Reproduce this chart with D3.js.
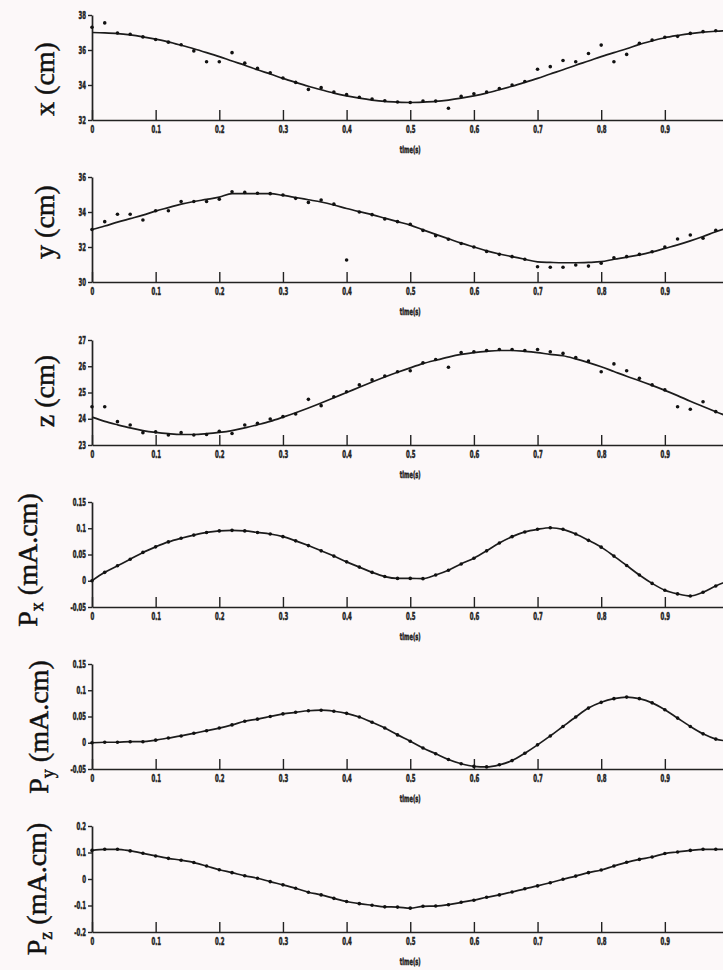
<!DOCTYPE html>
<html>
<head>
<meta charset="utf-8">
<script src="https://cdn.jsdelivr.net/npm/d3@7"></script>
<style>
body { margin: 0; background: #fcf8f9; }
svg { display: block; }
</style>
</head>
<body>
<div id="chart-area"></div>
<script>
// time grid (s), one sample every 0.02 s
var time = [0, 0.02, 0.04, 0.06, 0.08, 0.1, 0.12, 0.14, 0.16, 0.18,
	0.2, 0.22, 0.24, 0.26, 0.28, 0.3, 0.32, 0.34, 0.36, 0.38,
	0.4, 0.42, 0.44, 0.46, 0.48, 0.5, 0.52, 0.54, 0.56, 0.58,
	0.6, 0.62, 0.64, 0.66, 0.68, 0.7, 0.72, 0.74, 0.76, 0.78,
	0.8, 0.82, 0.84, 0.86, 0.88, 0.9, 0.92, 0.94, 0.96, 0.98, 1.0];

var timeTicks = [0, 0.1, 0.2, 0.3, 0.4, 0.5, 0.6, 0.7, 0.8, 0.9];

// x (cm)
var xFit = [37.0, 36.98, 36.94, 36.86, 36.75, 36.62, 36.46, 36.27, 36.07, 35.85,
	35.62, 35.37, 35.13, 34.87, 34.63, 34.38, 34.15, 33.93, 33.73, 33.54,
	33.38, 33.25, 33.14, 33.06, 33.02, 33.0, 33.02, 33.06, 33.14, 33.25,
	33.38, 33.54, 33.73, 33.93, 34.15, 34.38, 34.63, 34.87, 35.13, 35.37,
	35.62, 35.85, 36.07, 36.32, 36.52, 36.7, 36.83, 36.94, 37.02, 37.07, 37.1];
var xMeas = [37.3, 37.55, 36.97, 36.9, 36.75, 36.6, 36.45, 36.3, 35.95, 35.33,
	35.33, 35.85, 35.25, 34.95, 34.7, 34.4, 34.15, 33.75, 33.85, 33.6,
	33.45, 33.3, 33.2, 33.1, 33.03, 33.0, 33.08, 33.08, 32.67, 33.35,
	33.5, 33.6, 33.8, 34.0, 34.2, 34.9, 35.05, 35.4, 35.33, 35.8,
	36.28, 35.33, 35.75, 36.38, 36.57, 36.73, 36.78, 36.95, 37.05, 37.1, 37.1];
var xTicksY = [32, 34, 36, 38];

// y (cm)
var yFit = [33.0, 33.2, 33.42, 33.62, 33.82, 34.05, 34.25, 34.45, 34.6, 34.72,
	34.85, 35.05, 35.05, 35.05, 35.05, 34.95, 34.83, 34.7, 34.57, 34.4,
	34.2, 34.02, 33.85, 33.65, 33.45, 33.25, 32.98, 32.72, 32.47, 32.22,
	32.0, 31.78, 31.6, 31.45, 31.3, 31.15, 31.12, 31.1, 31.1, 31.12,
	31.16, 31.3, 31.42, 31.55, 31.72, 31.92, 32.12, 32.35, 32.6, 32.87, 33.1];
var yMeas = [33.0, 33.45, 33.87, 33.87, 33.54, 34.07, 34.07, 34.6, 34.6, 34.6,
	34.73, 35.16, 35.12, 35.07, 35.05, 34.97, 34.78, 34.55, 34.69, 34.45,
	31.26, 34.0, 33.85, 33.6, 33.45, 33.3, 32.95, 32.65, 32.44, 32.2,
	32.0, 31.75, 31.58, 31.45, 31.3, 30.87, 30.84, 30.84, 30.97, 30.91,
	31.07, 31.38, 31.45, 31.58, 31.73, 32.0, 32.46, 32.69, 32.5, 32.95, 33.05];
var yTicksY = [30, 32, 34, 36];

// z (cm)
var zFit = [24.06, 23.9, 23.77, 23.65, 23.55, 23.48, 23.43, 23.4, 23.4, 23.43,
	23.48, 23.55, 23.65, 23.77, 23.9, 24.06, 24.23, 24.41, 24.6, 24.8,
	25.0, 25.2, 25.4, 25.59, 25.77, 25.94, 26.1, 26.23, 26.35, 26.45,
	26.52, 26.57, 26.6, 26.6, 26.57, 26.52, 26.45, 26.4, 26.28, 26.14,
	25.98, 25.8, 25.62, 25.45, 25.27, 25.08, 24.88, 24.67, 24.47, 24.27, 24.08];
var zMeas = [24.46, 24.46, 23.89, 23.76, 23.47, 23.5, 23.38, 23.47, 23.38, 23.4,
	23.52, 23.44, 23.76, 23.83, 23.99, 24.08, 24.18, 24.74, 24.5, 24.84,
	25.03, 25.29, 25.48, 25.63, 25.79, 25.83, 26.13, 26.26, 25.96, 26.52,
	26.55, 26.6, 26.64, 26.64, 26.6, 26.64, 26.55, 26.49, 26.33, 26.2,
	25.79, 26.09, 25.83, 25.54, 25.29, 25.1, 24.46, 24.36, 24.65, 24.27, 24.1];
var zTicksY = [23, 24, 25, 26, 27];

// Px, Py, Pz (mA.cm): estimates sit on the fitted curve
var pxVals = [0.0, 0.016, 0.0285, 0.041, 0.054, 0.0646, 0.074, 0.081, 0.087, 0.092,
	0.095, 0.096, 0.095, 0.092, 0.089, 0.084, 0.076, 0.067, 0.057, 0.047,
	0.036, 0.026, 0.016, 0.008, 0.0045, 0.0045, 0.004, 0.011, 0.02, 0.032,
	0.043, 0.057, 0.072, 0.084, 0.093, 0.098, 0.101, 0.098, 0.089, 0.077,
	0.064, 0.047, 0.029, 0.011, -0.005, -0.018, -0.025, -0.029, -0.022, -0.01, 0.0];
var pyVals = [0.0, 0.001, 0.001, 0.002, 0.002, 0.005, 0.009, 0.013, 0.018, 0.023,
	0.028, 0.034, 0.041, 0.045, 0.05, 0.055, 0.058, 0.061, 0.062, 0.06,
	0.056, 0.049, 0.039, 0.028, 0.015, 0.003, -0.01, -0.021, -0.032, -0.04,
	-0.045, -0.046, -0.042, -0.034, -0.02, -0.004, 0.013, 0.031, 0.049, 0.066,
	0.077, 0.084, 0.087, 0.084, 0.076, 0.063, 0.047, 0.031, 0.017, 0.007, 0.003];
var pzVals = [0.108, 0.112, 0.112, 0.106, 0.097, 0.087, 0.078, 0.071, 0.062, 0.049,
	0.035, 0.024, 0.012, 0.003, -0.01, -0.022, -0.035, -0.05, -0.06, -0.073,
	-0.085, -0.093, -0.099, -0.105, -0.106, -0.11, -0.103, -0.102, -0.097, -0.088,
	-0.08, -0.069, -0.06, -0.049, -0.037, -0.026, -0.014, -0.001, 0.011, 0.024,
	0.034, 0.049, 0.063, 0.074, 0.083, 0.096, 0.102, 0.108, 0.112, 0.112, 0.112];
var pTicksY = [-0.05, 0, 0.05, 0.1, 0.15];
var pzTicksY = [-0.2, -0.1, 0, 0.1, 0.2];

var w = 723;
var h = 970;
var squeeze = 0.6;   // tick font is a very narrow one

var svg = d3.select("#chart-area").append("svg")
	.attr("width", w)
	.attr("height", h);

svg.append("rect")
	.attr("width", w)
	.attr("height", h)
	.attr("fill", "#fcf8f9");

var x = d3.scaleLinear()
	.domain([0, 1])
	.range([92, 728.5]);

var panels = [
	{top: 15,  bottom: 120, domain: [32, 38], ticks: xTicksY, fit: xFit, meas: xMeas, main: "x (cm)", lx: 54, ly: 79},
	{top: 177, bottom: 282, domain: [30, 36], ticks: yTicksY, fit: yFit, meas: yMeas, main: "y (cm)", lx: 54, ly: 222},
	{top: 340, bottom: 445, domain: [23, 27], ticks: zTicksY, fit: zFit, meas: zMeas, main: "z (cm)", lx: 54, ly: 391},
	{top: 502, bottom: 607, domain: [-0.05, 0.15], ticks: pTicksY, fit: pxVals, meas: pxVals, main: "P", sub: "x", lx: 37, ly: 560},
	{top: 664, bottom: 769, domain: [-0.05, 0.15], ticks: pTicksY, fit: pyVals, meas: pyVals, main: "P", sub: "y", lx: 48, ly: 727},
	{top: 826, bottom: 932, domain: [-0.2, 0.2], ticks: pzTicksY, fit: pzVals, meas: pzVals, main: "P", sub: "z", lx: 46, ly: 889}
];

function styleTicks(sel) {
	sel.selectAll("text")
		.attr("font-family", "'DejaVu Sans Condensed', 'DejaVu Sans', sans-serif")
		.attr("font-weight", "bold")
		.attr("font-size", "10px")
		.attr("fill", "#222")
		.attr("stroke", "#222")
		.attr("stroke-width", 0.5);
	sel.select(".domain").attr("stroke", "#222").attr("stroke-width", 1.7);
	sel.selectAll(".tick line").attr("stroke", "#222").attr("stroke-width", 1.4);
}

panels.forEach(function(p) {
	var y = d3.scaleLinear()
		.domain(p.domain)
		.range([p.bottom, p.top]);

	var g = svg.append("g");

	var xAxis = g.append("g")
		.attr("transform", "translate(0," + p.bottom + ")")
		.call(d3.axisBottom(x)
			.tickValues(timeTicks)
			.tickSizeInner(-10)
			.tickSizeOuter(0)
			.tickPadding(6)
			.tickFormat(function(d) { return String(d); }));
	styleTicks(xAxis);
	xAxis.selectAll("text").attr("transform", "scale(" + squeeze + ",1)");

	var yAxis = g.append("g")
		.attr("transform", "translate(" + x(0) + ",0)")
		.call(d3.axisLeft(y)
			.tickValues(p.ticks)
			.tickSizeInner(4)
			.tickSizeOuter(0)
			.tickPadding(2)
			.tickFormat(function(d) { return String(d); }));
	styleTicks(yAxis);
	yAxis.selectAll("text")
		.attr("x", -6 / squeeze)
		.attr("transform", "scale(" + squeeze + ",1)");

	g.append("text")
		.attr("transform", "translate(" + x(0.5) + "," + (p.bottom + 33) + ") scale(" + squeeze + ",1)")
		.attr("text-anchor", "middle")
		.attr("font-family", "'DejaVu Sans Condensed', 'DejaVu Sans', sans-serif")
		.attr("font-weight", "bold")
		.attr("font-size", "9.5px")
		.attr("fill", "#222")
		.attr("stroke", "#222")
		.attr("stroke-width", 0.5)
		.text("time(s)");

	var line = d3.line()
		.x(function(d, i) { return x(time[i]); })
		.y(function(d) { return y(d); })
		.curve(d3.curveMonotoneX);

	g.append("path")
		.datum(p.fit)
		.attr("d", line)
		.attr("fill", "none")
		.attr("stroke", "#1c1c1c")
		.attr("stroke-width", 1.7);

	g.selectAll("circle")
		.data(p.meas)
		.enter().append("circle")
		.attr("cx", function(d, i) { return x(time[i]); })
		.attr("cy", function(d) { return y(d); })
		.attr("r", 1.8)
		.attr("fill", "#111");

	var label = g.append("text")
		.attr("transform", "translate(" + p.lx + "," + p.ly + ") rotate(-90)")
		.attr("text-anchor", "middle")
		.attr("font-family", "'Liberation Serif', 'Times New Roman', serif")
		.attr("font-size", "28px")
		.attr("fill", "#111")
		.attr("stroke", "#111")
		.attr("stroke-width", 0.5);
	label.append("tspan").text(p.main);
	if (p.sub) {
		label.append("tspan")
			.attr("font-size", "18px")
			.attr("dy", 6)
			.text(p.sub);
		label.append("tspan")
			.attr("dy", -6)
			.text(" (mA.cm)");
	}
});
</script>
</body>
</html>
